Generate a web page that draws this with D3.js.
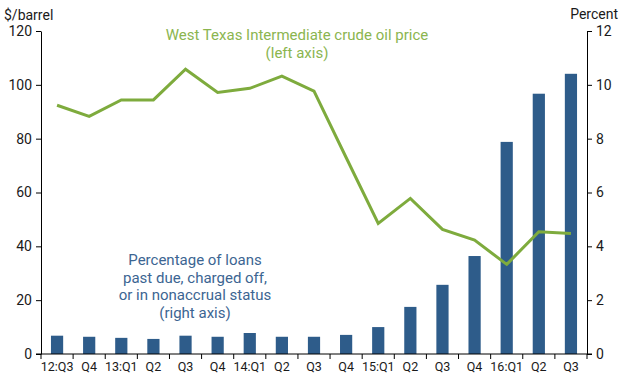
<!DOCTYPE html>
<html><head><meta charset="utf-8">
<script src="https://cdn.jsdelivr.net/npm/d3@7"></script>
<style>body{margin:0;background:#fff}svg{display:block;font-family:Roboto,"Noto Sans",sans-serif}</style>
</head><body><svg id="c" width="620" height="375"></svg>
<script>
const categories = ["12:Q3","Q4","13:Q1","Q2","Q3","Q4","14:Q1","Q2","Q3","Q4","15:Q1","Q2","Q3","Q4","16:Q1","Q2","Q3"];
const loanPct = [0.68,0.64,0.60,0.56,0.68,0.64,0.78,0.64,0.64,0.71,1.00,1.75,2.57,3.64,7.88,9.67,10.41];
const oilPrice = [92.4,88.3,94.4,94.4,105.8,97.2,98.7,103.2,97.7,73.0,48.5,57.8,46.3,42.3,33.3,45.4,44.8];
const leftTicks = [0,20,40,60,80,100,120];
const rightTicks = [0,2,4,6,8,10,12];

const svg = d3.select("#c");
const L = 41, R = 587, T = 31, B = 354;
const x = d3.scaleBand().domain(d3.range(categories.length)).range([L,R]).paddingInner(0.62).paddingOuter(0.31);
const xb = d3.scaleBand().domain(d3.range(categories.length)).range([L,R]);
const yL = d3.scaleLinear().domain([0,120]).range([B,T]);
const yR = d3.scaleLinear().domain([0,12]).range([B,T]);

const barColor = "#2e5c8a", lineColor = "#7eab3d";

svg.append("g").selectAll("rect").data(loanPct).join("rect")
  .attr("x",(d,i)=>x(i)).attr("width",x.bandwidth())
  .attr("y",d=>yR(d)).attr("height",d=>B-yR(d)).attr("fill",barColor);

const line = d3.line().x((d,i)=>xb(i)+xb.bandwidth()/2).y(d=>yL(d));
svg.append("path").datum(oilPrice).attr("d",line).attr("fill","none")
  .attr("stroke",lineColor).attr("stroke-width",3).attr("stroke-linejoin","miter");

function styleAxis(g){
  g.selectAll("path,line").attr("stroke","#000").attr("stroke-width",1);
  g.selectAll("text").attr("fill","#1a1a1a").style("font-family","Roboto,sans-serif");
}
const gl = svg.append("g").attr("transform",`translate(${L},0)`)
  .call(d3.axisLeft(yL).tickValues(leftTicks).tickSize(5).tickSizeOuter(0).tickPadding(4));
gl.call(styleAxis); gl.selectAll("text").style("font-size","14px");
const gr = svg.append("g").attr("transform",`translate(${R},0)`)
  .call(d3.axisRight(yR).tickValues(rightTicks).tickSize(5).tickSizeOuter(0).tickPadding(4));
gr.call(styleAxis); gr.selectAll("text").style("font-size","14px");

// x axis
const gx = svg.append("g").attr("transform",`translate(0,${B})`);
gx.append("line").attr("x1",L-5).attr("x2",R+5).attr("stroke","#000");
gx.selectAll("line.t").data(d3.range(categories.length+1)).join("line").attr("class","t")
  .attr("x1",i=>L+i*xb.step()).attr("x2",i=>L+i*xb.step()).attr("y1",0).attr("y2",5).attr("stroke","#000");
gx.selectAll("text").data(categories).join("text")
  .attr("x",(d,i)=>xb(i)+xb.bandwidth()/2).attr("y",17).attr("text-anchor","middle")
  .style("font-size","12.5px").attr("fill","#1a1a1a").text(d=>d);

svg.append("text").attr("x",4).attr("y",20).style("font-size","14px").attr("fill","#1a1a1a").text("$/barrel");
svg.append("text").attr("x",618).attr("y",19).attr("text-anchor","end").style("font-size","14px").attr("fill","#1a1a1a").text("Percent");

const oilLabel = ["West Texas Intermediate crude oil price","(left axis)"];
svg.append("g").selectAll("text").data(oilLabel).join("text")
  .attr("x",297).attr("y",(d,i)=>40+i*18).attr("text-anchor","middle")
  .style("font-size","15px").attr("fill","#8bb54f").text(d=>d);

const loanLabel = ["Percentage of loans","past due, charged off,","or in nonaccrual status","(right axis)"];
svg.append("g").selectAll("text").data(loanLabel).join("text")
  .attr("x",195).attr("y",(d,i)=>265+i*17.6).attr("text-anchor","middle")
  .style("font-size","15px").attr("fill","#3c6592").text(d=>d);
</script></body></html>
